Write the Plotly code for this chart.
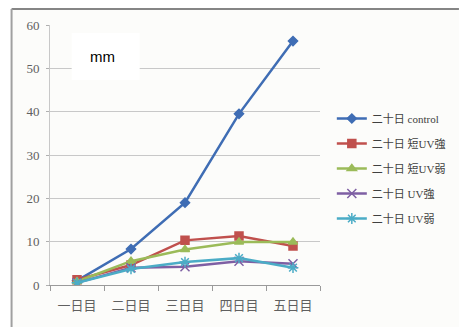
import plotly.graph_objects as go

days = ["一日目", "二日目", "三日目", "四日目", "五日目"]
control = [1.0, 8.3, 19.0, 39.5, 56.3]
short_uv_strong = [1.2, 4.6, 10.3, 11.3, 9.0]
short_uv_weak = [0.8, 5.5, 8.2, 9.9, 9.9]
uv_strong = [0.5, 4.0, 4.2, 5.5, 4.9]
uv_weak = [0.5, 3.7, 5.3, 6.2, 4.0]

series = [
    ("二十日 control", control, "#3f6db4", "diamond", 7),
    ("二十日 短UV強", short_uv_strong, "#c0504d", "square", 8),
    ("二十日 短UV弱", short_uv_weak, "#9bbb59", "triangle-up", 8),
    ("二十日 UV強", uv_strong, "#7e5fa3", "x-thin-open", 9),
    ("二十日 UV弱", uv_weak, "#4bacc6", "asterisk-open", 9),
]

W, H = 463, 327
L, R, T, B = 50, 324, 25, 285  # plot area in pixels


def px(x):
    return (x - L) / (R - L)


def py(y):
    return (B - y) / (B - T)


fig = go.Figure()
for i, (name, vals, color, sym, size) in enumerate(series):
    fig.add_trace(go.Scatter(
        x=days, y=vals, name=name, mode="lines+markers",
        legendgroup=f"g{i}",
        line=dict(color=color, width=2.5),
        marker=dict(symbol=sym, size=size, color=color,
                    line=dict(color=color, width=1.5)),
    ))

serif = "Liberation Serif, Noto Sans CJK JP, serif"

fig.update_layout(
    width=W, height=H,
    margin=dict(l=L, r=W - R, t=T, b=H - B),
    paper_bgcolor="white",
    plot_bgcolor="rgba(0,0,0,0)",
    showlegend=True,
    legend=dict(
        x=px(336), y=py(104), xanchor="left", yanchor="top",
        font=dict(family=serif, size=11, color="#404040"),
        bgcolor="rgba(0,0,0,0)", tracegroupgap=6, itemwidth=30,
    ),
    xaxis=dict(
        type="category", tickson="boundaries", ticks="outside", ticklen=5,
        tickcolor="#9a9a9a", showline=True, linecolor="#9a9a9a", linewidth=1,
        showgrid=False, tickfont=dict(family=serif, size=13, color="#606060"),
        ticklabelstandoff=8, range=[-0.5, 4.5],
    ),
    yaxis=dict(
        range=[0, 60], dtick=10, ticks="outside", ticklen=3, tickcolor="#b0b0b0",
        showline=True, linecolor="#c8c8c8", gridcolor="#c8c8c8", gridwidth=1,
        zeroline=False, tickfont=dict(family=serif, size=13, color="#606060"),
        ticklabelstandoff=4,
    ),
    shapes=[
        # chart area background and frame
        dict(type="rect", xref="paper", yref="paper", layer="below",
             x0=px(11), x1=px(W + 2), y0=py(9), y1=py(H + 2),
             fillcolor="#fcfcfa", line=dict(width=0)),
        dict(type="line", xref="paper", yref="paper",
             x0=px(11), x1=px(W + 2), y0=py(9), y1=py(9),
             line=dict(color="#858585", width=2)),
        dict(type="line", xref="paper", yref="paper",
             x0=px(11), x1=px(11), y0=py(9), y1=py(H + 2),
             line=dict(color="#a0a0a0", width=2)),
        # unit label box
        dict(type="rect", xref="paper", yref="paper", layer="above",
             x0=px(72), x1=px(141), y0=py(80), y1=py(33),
             fillcolor="white", line=dict(width=0)),
    ],
    annotations=[
        dict(text="mm", xref="paper", yref="paper", x=px(103), y=py(56),
             xanchor="center", yanchor="middle", showarrow=False,
             font=dict(family="Liberation Sans, Arial", size=15, color="black")),
    ],
)

fig.write_html("out.html")
